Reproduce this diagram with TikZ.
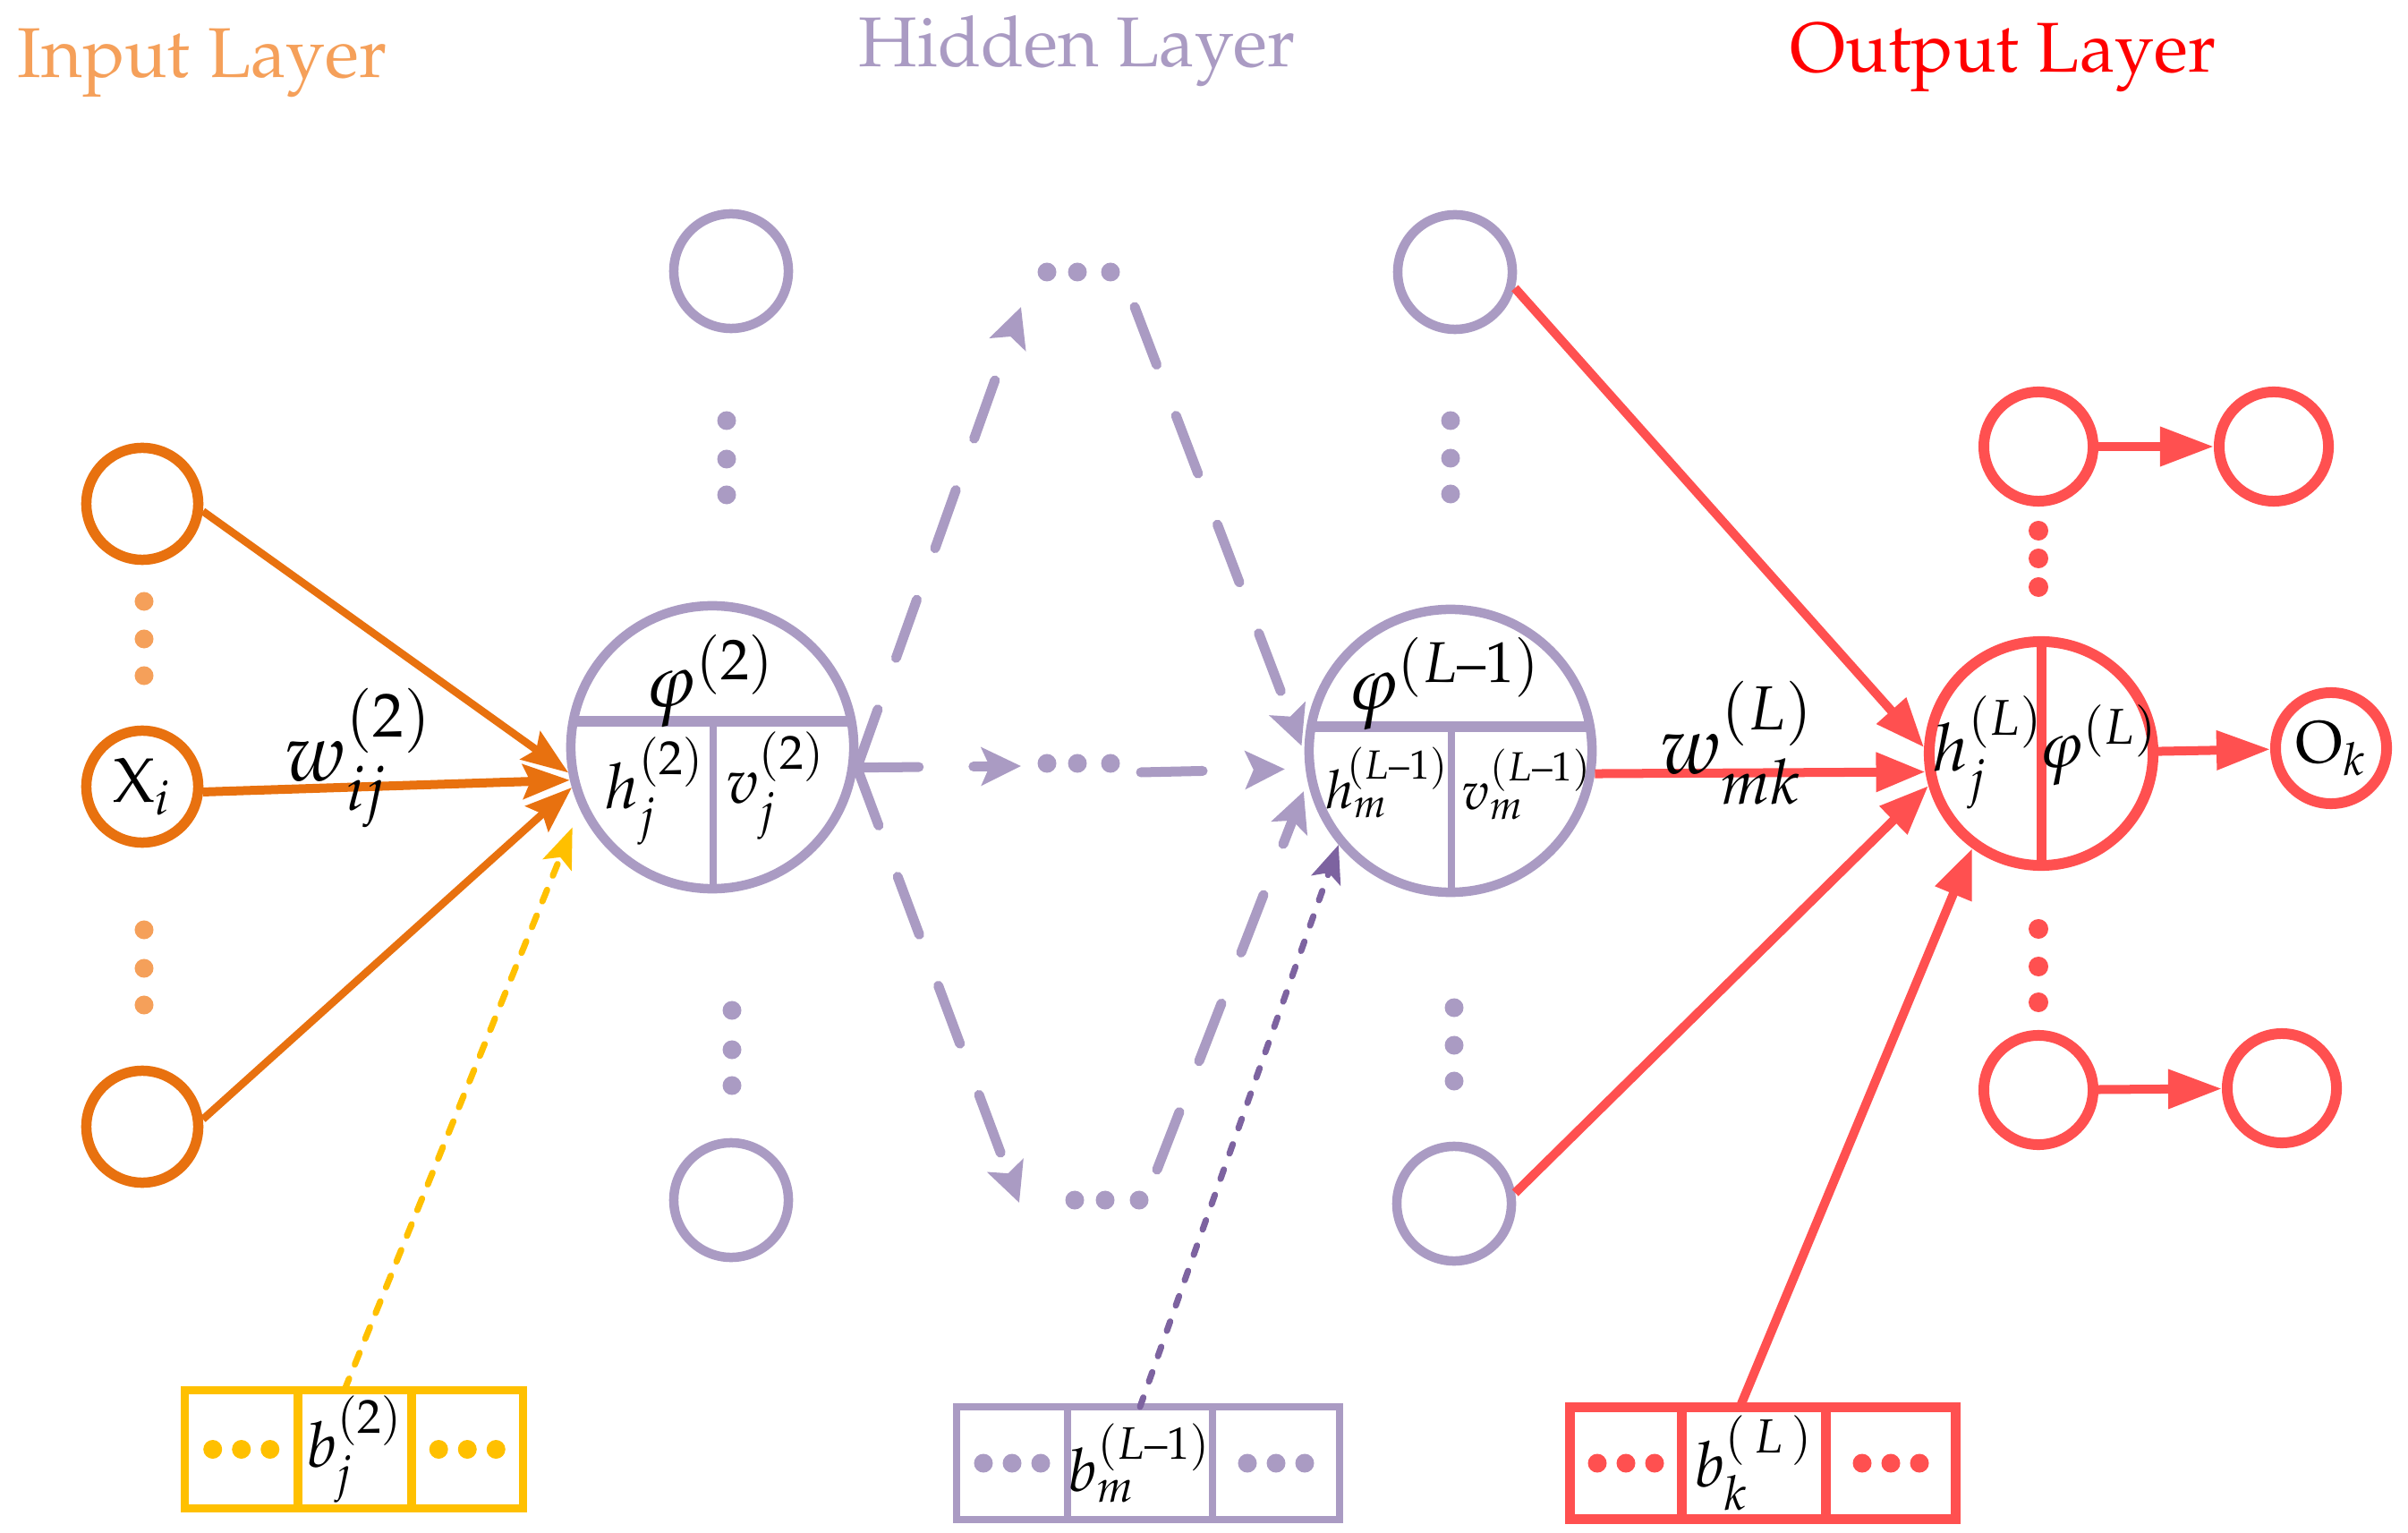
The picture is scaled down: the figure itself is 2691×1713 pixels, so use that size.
\documentclass[tikz,border=0pt]{standalone}
\usepackage[T1]{fontenc}
\usepackage{mathpazo}
\usepackage{amsmath}
\usetikzlibrary{arrows.meta,calc}
\definecolor{orgD}{HTML}{E8710F}
\definecolor{orgL}{HTML}{F5A05A}
\definecolor{lav}{HTML}{AA9BC3}
\definecolor{purD}{HTML}{7D63A0}
\definecolor{yel}{HTML}{FFC000}
\definecolor{redL}{HTML}{FF5050}
\definecolor{redT}{HTML}{FF0000}
\begin{document}
\begin{tikzpicture}[x=0.01cm,y=-0.01cm,
  title/.style={font=\fontsize{22.4}{26}\selectfont, inner sep=0pt, anchor=base west},
  incirc/.style={circle, draw=orgD, line width=1.15mm, minimum size=12.5mm, inner sep=0pt, font=\fontsize{20}{24}\selectfont},
  hidcirc/.style={circle, draw=lav, line width=1.05mm, minimum size=12.8mm, inner sep=0pt},
  bigcirc/.style={circle, draw=lav, line width=1.05mm, minimum size=31.6mm, inner sep=0pt},
  outcirc/.style={circle, draw=redL, line width=1.2mm, minimum size=12.2mm, inner sep=0pt, font=\fontsize{19}{23}\selectfont},
  bigout/.style={circle, draw=redL, line width=1.2mm, minimum size=25mm, inner sep=0pt},
  lbl/.style={inner sep=0pt, anchor=base, font=\fontsize{20}{24}\selectfont},
  cell/.style={rectangle, inner sep=0pt, outer sep=0pt, font=\fontsize{20}{24}\selectfont},
  tridots/.style={path picture={\foreach \dx in {-3.2,0,3.2}{\fill[#1] ([xshift=\dx mm]path picture bounding box.center) circle (1.05mm);}}},
  orgarrow/.style={draw=orgD, line width=0.85mm, -{Stealth[length=5.2mm,width=3.8mm,inset=0.8mm]}},
  redarrow/.style={draw=redL, line width=1mm, -{Triangle[length=5.5mm,width=4.2mm]}},
  redsmall/.style={draw=redL, line width=1mm, -{Triangle[length=6mm,width=4.2mm]}},
  lavdash/.style={draw=lav, line width=1.1mm, line cap=round, dash pattern=on 6.9mm off 6.1mm, -{Stealth[length=4.4mm,width=4.2mm,inset=0.9mm]}},
  yeldash/.style={draw=yel, line width=0.7mm, line cap=round, dash pattern=on 1.4mm off 1.7mm, -{Stealth[length=4.5mm,width=3.4mm,inset=0.9mm]}},
  purdash/.style={draw=purD, line width=0.7mm, line cap=round, dash pattern=on 1.1mm off 1.9mm, -{Stealth[length=4.2mm,width=3.4mm,inset=0.9mm]}}
]
\useasboundingbox (0,0) rectangle (2691,1713);

% titles
\node[title,text=orgL] (tin) at (19,87) {Input Layer};
\node[title,text=lav] (thid) at (959,75) {Hidden Layer};
\node[title,text=redT] (tout) at (2000,81) {Output Layer};

% input layer
\node[incirc] (in1) at (159,563) {};
\node[incirc] (in2) at (159,879) {$\mathrm{X}_i$};
\node[incirc] (in3) at (159,1259) {};
\foreach \yy in {672,714,755,1039,1082,1123} \fill[orgL] (161,\yy) circle (1.05mm);

% hidden layer
\node[hidcirc] (h1a) at (817,303) {};
\node[hidcirc] (h1b) at (817,1341) {};
\node[bigcirc] (n1) at (796,835) {};
\node[hidcirc] (h2a) at (1626,304) {};
\node[hidcirc] (h2b) at (1625,1345) {};
\node[bigcirc] (n2) at (1621,839) {};
\foreach \yy in {470,513,553} \fill[lav] (812,\yy) circle (1.05mm);
\foreach \yy in {1129,1173,1213} \fill[lav] (818,\yy) circle (1.05mm);
\foreach \yy in {470,512,552} \fill[lav] (1621,\yy) circle (1.05mm);
\foreach \yy in {1126,1168,1208} \fill[lav] (1625,\yy) circle (1.05mm);
\foreach \xx in {1170,1204,1241} \fill[lav] (\xx,304) circle (1.05mm);
\foreach \xx in {1170,1204,1241} \fill[lav] (\xx,853) circle (1.05mm);
\foreach \xx in {1201,1235,1273} \fill[lav] (\xx,1341) circle (1.05mm);

% dividers of the big hidden nodes
\draw[lav, line width=1.1mm] ($(n1.center)+(-155,-29)$) -- ($(n1.center)+(155,-29)$);
\draw[lav, line width=0.75mm] ($(n1.center)+(1,-29)$) -- ($(n1.center)+(1,158)$);
\draw[lav, line width=1.1mm] ($(n2.center)+(-155,-27)$) -- ($(n2.center)+(155,-27)$);
\draw[lav, line width=0.75mm] ($(n2.center)+(1,-27)$) -- ($(n2.center)+(1,158)$);

% labels in hidden nodes
\node[lbl, font=\fontsize{24}{28}\selectfont] (l1phi) at (794,790) {$\varphi^{(2)}$};
\node[lbl] (l1h) at (732,904) {$h_j^{(2)}$};
\node[lbl] (l1v) at (867,898) {$v_j^{(2)}$};
\node[lbl, font=\fontsize{24}{28}\selectfont] (l2phi) at (1614,793) {$\varphi^{(L\text{--}1)}$};
\node[lbl, font=\fontsize{17}{21}\selectfont] (l2h) at (1550,903) {$h_m^{\!(L\text{--}1)}$};
\node[lbl, font=\fontsize{17}{21}\selectfont] (l2v) at (1706,905) {$v_m^{(L\text{--}1)}$};

% output layer
\node[bigout] (out) at (2281,842) {};
\draw[redL, line width=1.1mm] ($(out.center)+(0,-125)$) -- ($(out.center)+(0,125)$);
\node[lbl, font=\fontsize{21}{25}\selectfont] (l3h) at (2222,862) {$h_j^{(L)}$};
\node[lbl, font=\fontsize{21}{25}\selectfont] (l3phi) at (2345,858) {$\varphi^{(L)}$};
\node[outcirc] (o1) at (2278,499) {};
\node[outcirc] (o2) at (2541,499) {};
\node[outcirc] (o3) at (2278,1218) {};
\node[outcirc] (o4) at (2550,1216) {};
\node[outcirc, minimum size=12.4mm] (ok) at (2605,836) {$\mathrm{O}_k$};
\foreach \yy in {593,624,656,1038,1080,1120} \fill[redL] (2278,\yy) circle (1.1mm);

% bias boxes
\node[cell, draw=yel, line width=0.9mm, minimum width=12.65mm, minimum height=13.2mm, tridots=yel] (yb1) at (269.75,1619.5) {};
\node[cell, draw=yel, line width=0.9mm, minimum width=12.7mm, minimum height=13.2mm] (yb2) at (396.5,1619.5) {$b_j^{(2)}$};
\node[cell, draw=yel, line width=0.9mm, minimum width=12.45mm, minimum height=13.2mm, tridots=yel] (yb3) at (522.25,1619.5) {};

\node[cell, draw=lav, line width=0.85mm, minimum width=12.4mm, minimum height=12.6mm, tridots=lav] (lb1) at (1131,1635) {};
\node[cell, draw=lav, line width=0.85mm, minimum width=16.2mm, minimum height=12.6mm, font=\fontsize{19}{23}\selectfont] (lb2) at (1274,1635) {$b_m^{(L\text{--}1)}$};
\node[cell, draw=lav, line width=0.85mm, minimum width=14.2mm, minimum height=12.6mm, tridots=lav] (lb3) at (1426,1635) {};

\node[cell, draw=redL, line width=1.1mm, minimum width=12.55mm, minimum height=12.5mm, tridots=redL] (rb1) at (1817,1635) {};
\node[cell, draw=redL, line width=1.1mm, minimum width=16mm, minimum height=12.5mm] (rb2) at (1960,1635) {$b_k^{(\,L\,)}$};
\node[cell, draw=redL, line width=1.1mm, minimum width=14.55mm, minimum height=12.5mm, tridots=redL] (rb3) at (2113,1635) {};

% free ends of the dashed hidden connectors
\coordinate (ta1) at (1141,343);
\coordinate (ta2) at (1268,343);
\coordinate (tm1) at (1141,856);
\coordinate (tm2) at (1275,863);
\coordinate (tb1) at (1139,1344);
\coordinate (tb2) at (1293,1307);

% input -> hidden
\draw[orgarrow] (in1.-7) -- (n1.190);
\draw[orgarrow, line width=1mm] (in2.-5) -- (n1.193);
\draw[orgarrow] (in3.7) -- (n1.196);
\node[lbl, font=\fontsize{26}{30}\selectfont] (lw1) at (401,873) {$w_{ij}^{(2)}$};

% hidden dashed
\draw[lavdash] (n1.-8) -- (ta1);
\draw[lavdash] (n1.-8) -- (tm1);
\draw[lavdash] (n1.-8) -- (tb1);
\draw[lavdash, shorten >=0.9mm] (ta2) -- (n2.181);
\draw[lavdash, shorten >=2.3mm] (tm2) -- (n2.187);
\draw[lavdash, shorten >=1.2mm] (tb2) -- (n2.192);

% hidden -> output
\draw[redarrow] (h2a.-15) -- (out.177);
\draw[redarrow] (n2.-9) -- (out.189);
\draw[redarrow] (h2b.10) -- (out.196);
\node[lbl, font=\fontsize{26}{30}\selectfont] (lw2) at (1941,865) {$w_{mk}^{(L)}$};

% output arrows
\draw[redsmall] (o1) -- (o2);
\draw[redsmall] (o3) -- (o4);
\draw[redsmall] (out) -- (ok);

% bias connectors
\draw[yeldash, shorten >=2.2mm] (yb2.100) -- (n1.205);
\draw[purdash] (lb2.90) -- (n2.220);
\draw[redarrow] (rb2.104) -- (out.234);
\end{tikzpicture}
\end{document}
